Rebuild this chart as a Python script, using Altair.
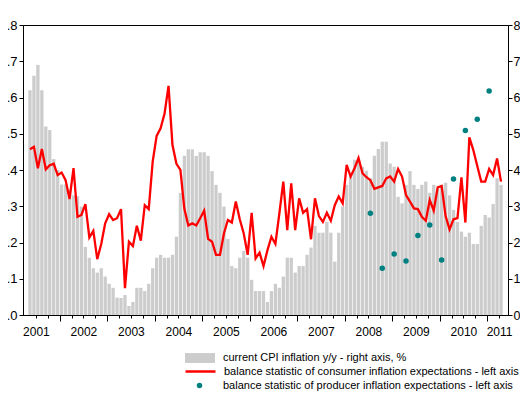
import altair as alt
import pandas as pd

FONT = "Liberation Sans, Arial, sans-serif"

start_year, start_month = 2001, 5  # first monthly observation

cpi = [6.2, 6.6, 6.9, 6.2, 5.2, 5.1, 4.3, 4.0, 3.6, 3.6, 3.45, 3.3,
       3.28, 2.99, 1.88, 1.58, 1.29, 1.17, 1.29, 1.06, 0.86, 0.75, 0.48, 0.47,
       0.55, 0.25, 0.36, 0.75, 0.75, 0.66, 0.86, 1.29, 1.58, 1.66, 1.58, 1.58,
       1.66, 2.16, 3.37, 4.39, 4.57, 4.57, 4.39, 4.49, 4.49, 4.39, 3.97, 3.59,
       3.37, 2.99, 2.1, 1.35, 1.29, 1.58, 1.77, 1.58, 0.97, 0.66, 0.66, 0.66,
       0.36, 0.66, 0.86, 0.75, 1.06, 1.58, 1.58, 1.17, 1.35, 1.35, 1.66, 1.86,
       2.46, 2.27, 2.27, 2.57, 2.27, 1.47, 2.27, 2.99, 3.59, 3.88, 4.28, 4.28,
       4.09, 3.98, 3.77, 4.39, 4.58, 4.78, 4.78, 4.18, 4.09, 3.26, 3.08, 3.59,
       3.97, 3.59, 3.48, 3.59, 3.68, 3.37, 3.59, 3.48, 3.59, 3.65, 3.3, 2.9,
       2.57, 2.3, 2.16, 2.27, 1.96, 1.96, 2.46, 2.76, 2.69, 3.06, 3.77, 3.59]

consumer = [0.457, 0.464, 0.405, 0.458, 0.402, 0.413, 0.417, 0.386, 0.393, 0.372, 0.320, 0.405,
            0.271, 0.276, 0.306, 0.214, 0.232, 0.154, 0.196, 0.253, 0.278, 0.262, 0.267, 0.292,
            0.074, 0.202, 0.190, 0.246, 0.205, 0.303, 0.292, 0.423, 0.494, 0.515, 0.556, 0.632,
            0.469, 0.417, 0.400, 0.293, 0.247, 0.253, 0.247, 0.267, 0.288, 0.210, 0.202, 0.166,
            0.166, 0.225, 0.262, 0.255, 0.313, 0.264, 0.225, 0.166, 0.282, 0.156, 0.172, 0.135,
            0.179, 0.216, 0.196, 0.280, 0.368, 0.234, 0.363, 0.234, 0.322, 0.282, 0.292, 0.209,
            0.322, 0.273, 0.257, 0.282, 0.260, 0.303, 0.327, 0.308, 0.414, 0.382, 0.405, 0.433,
            0.391, 0.380, 0.372, 0.348, 0.352, 0.356, 0.377, 0.382, 0.368, 0.403, 0.382, 0.331,
            0.313, 0.294, 0.292, 0.271, 0.260, 0.317, 0.288, 0.352, 0.356, 0.273, 0.236, 0.264,
            0.267, 0.380, 0.255, 0.490, 0.455, 0.411, 0.368, 0.368, 0.403, 0.386, 0.432, 0.368]

producer_months = ["2008-07", "2008-10", "2009-01", "2009-04", "2009-07", "2009-10",
                   "2010-01", "2010-04", "2010-07", "2010-10", "2011-01"]
producer = [0.281, 0.129, 0.168, 0.149, 0.219, 0.248, 0.152, 0.375, 0.509, 0.540, 0.618]

left_ticks = [0.0, 0.1, 0.2, 0.3, 0.4, 0.5, 0.6, 0.7, 0.8]
right_ticks = [0, 1, 2, 3, 4, 5, 6, 7, 8]

series_labels = ["current CPI inflation y/y - right axis, %",
                 "balance statistic of consumer inflation expectations - left axis",
                 "balance statistic of producer inflation expectations - left axis"]

n = len(cpi)


def month_index(s):
    y, m = int(s[:4]), int(s[5:7])
    return (y - start_year) * 12 + (m - start_month)


df = pd.DataFrame({"t": [i + 0.5 for i in range(n)], "cpi": cpi, "cons": consumer,
                   "s1": series_labels[0], "s2": series_labels[1]})
pdf = pd.DataFrame({"t": [month_index(s) + 0.5 for s in producer_months],
                    "prod": producer, "s3": series_labels[2]})

quarter_ticks = [i for i in range(n + 1) if (start_month - 1 + i) % 3 == 0]
year_ticks = [i for i in quarter_ticks if (start_month - 1 + i) % 12 == 0]
label_ticks = [i for i in quarter_ticks if (start_month - 1 + i) % 12 == 6] + [quarter_ticks[-1]]

label_expr = (f"indexof({label_ticks}, datum.value) >= 0 ? "
              f"toString({start_year} + floor((datum.value + {start_month - 1}) / 12)) : ''")

xscale = alt.Scale(domain=[0, n], nice=False, zero=False)
xaxis = alt.Axis(values=quarter_ticks,
                 tickSize={"condition": {"test": f"indexof({year_ticks}, datum.value) >= 0", "value": 6},
                           "value": 3},
                 labelExpr=label_expr, labelOverlap=False, labelBound=False, labelFlush=False,
                 labelFontSize=12, labelPadding=8, title=None, grid=False,
                 domainColor="black", tickColor="black", labelColor="black", labelFont=FONT)

left_axis = alt.Axis(orient="left", values=left_ticks,
                     labelExpr="replace(format(datum.value, '.1f'), '0.', '.')",
                     tickSize=4, labelPadding=2, labelFontSize=13, labelFont=FONT,
                     labelColor="black", tickColor="black", domainColor="black",
                     title=None, grid=False)
right_axis = alt.Axis(orient="right", values=right_ticks, format="d",
                      tickSize=4, labelPadding=1, labelFontSize=12.5, labelFont=FONT,
                      labelColor="black", tickColor="black", domainColor="black",
                      title=None, grid=False)
lscale = alt.Scale(domain=[0, 0.8], nice=False, zero=True)

bars = alt.Chart(df).mark_bar(size=3.3, opacity=1).encode(
    x=alt.X("t:Q", scale=xscale, axis=xaxis),
    y=alt.Y("cpi:Q", scale=alt.Scale(domain=[0, 8], nice=False), axis=right_axis),
    fill=alt.Fill("s1:N", scale=alt.Scale(range=["#CCCCCC"]),
                  legend=alt.Legend(orient="none", legendX=162, legendY=318, title=None,
                                    symbolType="M-1,-0.33H1V0.33H-1Z", symbolSize=900,
                                    symbolStrokeWidth=0, labelOffset=8, labelFontSize=11,
                                    labelFont=FONT, labelLimit=400, padding=0, labelColor="black")),
)

line = alt.Chart(df).mark_line(strokeWidth=2.3).encode(
    x=alt.X("t:Q", scale=xscale, axis=xaxis),
    y=alt.Y("cons:Q", scale=lscale, axis=left_axis),
    stroke=alt.Stroke("s2:N", scale=alt.Scale(range=["#FF0000"]),
                      legend=alt.Legend(orient="none", legendX=161, legendY=330, title=None,
                                        symbolType="stroke", symbolSize=900, symbolStrokeWidth=2.5,
                                        labelOffset=7, labelFontSize=11, labelFont=FONT,
                                        labelLimit=400, padding=0, labelColor="black")),
)

pts = alt.Chart(pdf).mark_circle(size=30, opacity=1).encode(
    x=alt.X("t:Q", scale=xscale, axis=xaxis),
    y=alt.Y("prod:Q", scale=lscale, axis=left_axis),
    color=alt.Color("s3:N", scale=alt.Scale(range=["#008080"]),
                    legend=alt.Legend(orient="none", legendX=171, legendY=355, title=None,
                                      symbolType="circle", symbolSize=30, symbolStrokeWidth=0,
                                      labelOffset=18, labelFontSize=11, labelFont=FONT,
                                      labelLimit=400, padding=0, labelColor="black")),
)

chart = alt.layer(bars, alt.layer(line, pts)).resolve_scale(y="independent").properties(
    width=485, height=290, autosize="none",
    padding={"left": 15, "top": 17, "right": 12, "bottom": 77},
).configure_view(stroke="black", strokeWidth=1)

chart.save("out.html", embed_options={"renderer": "svg", "actions": False})
